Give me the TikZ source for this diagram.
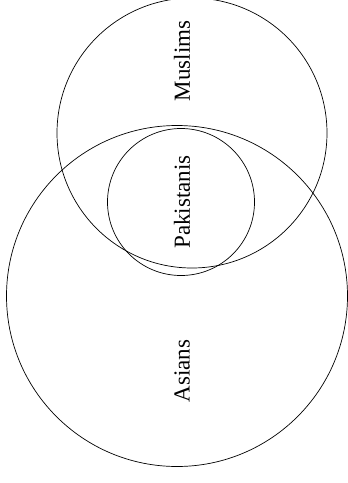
\documentclass[tikz,border=0pt]{standalone}
\usepackage{fontspec}
\setmainfont{Liberation Serif}
\usepackage{tikz}
\usetikzlibrary{positioning}

\begin{document}
\begin{tikzpicture}[
  x=1pt, y=-1pt,
  set/.style={circle, draw, line width=0.7pt, inner sep=0pt, outer sep=0pt},
  setlabel/.style={rotate=90, font=\fontsize{23}{27}\selectfont, inner sep=0pt},
]
\useasboundingbox (0,0) rectangle (348,483);

% Mengen
\node[set, minimum size=270pt] (muslims) at (192,133) {};
\node[set, minimum size=341pt] (asians) at (177,296) {};
\node[set, minimum size=147pt] (pakistanis) at (181,202) {};

% Beschriftungen
\node[setlabel] (lmuslims) at (182,61) {Muslims};
\node[setlabel] (lpakistanis) at (182,202) {Pakistanis};
\node[setlabel] (lasians) at (182,371) {Asians};

\end{tikzpicture}
\end{document}
